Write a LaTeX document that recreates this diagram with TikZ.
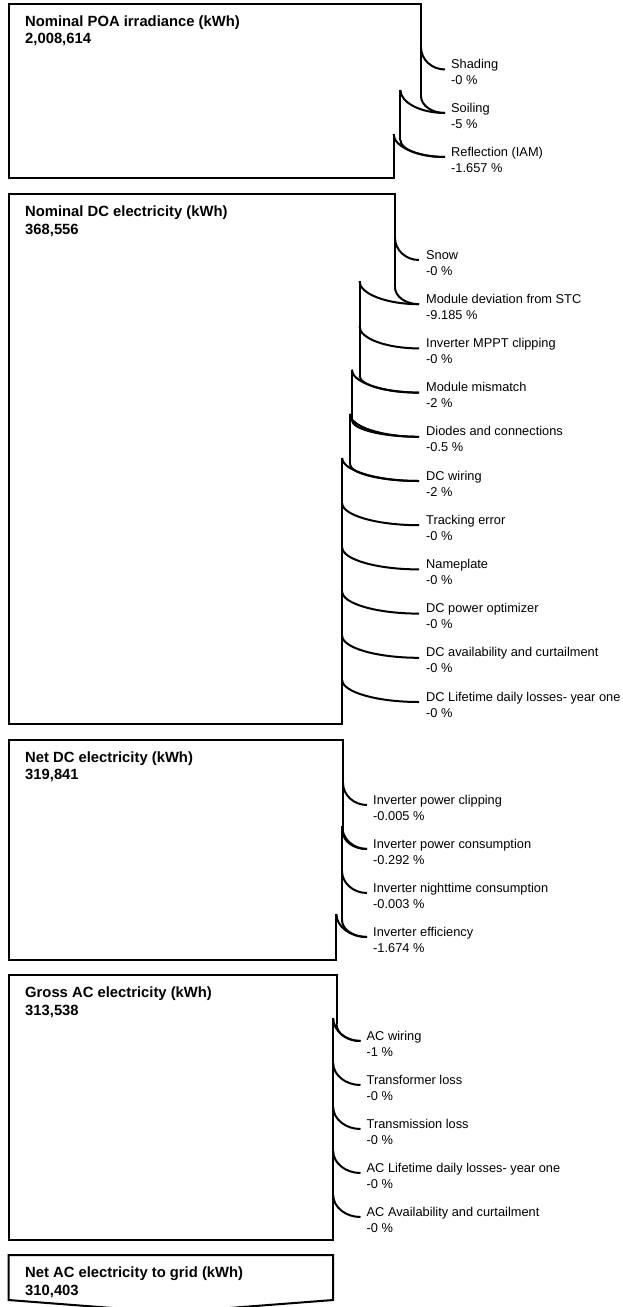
\documentclass[tikz,border=0pt]{standalone}
\usepackage{fontspec}
\setmainfont{Liberation Sans}
\tikzset{
  boxline/.style={line width=2pt, line join=miter},
  branch/.style={line width=2pt},
  title/.style={anchor=base west, inner sep=0pt, align=left, font=\bfseries\fontsize{14.8}{17.3}\selectfont},
  loss/.style={anchor=base west, inner sep=0pt, align=left, font=\fontsize{12.8}{16}\selectfont},
}
% #1 name, #2 y of curve end, #3 x of edge, #4 line1, #5 line2
\newcommand\zeroloss[5]{%
  \node[loss] (#1) at (\xt,{#2+15}) {#4\\#5};
  \coordinate (#1e) at (\xe,#2);
  \draw[branch] (#3,{#2-22}) .. controls (#3,{#2-10}) and ({#3+0.45*(\xe-#3)},#2) .. (#1e);
}
% #1 name, #2 y of curve end, #3 old edge x, #4 new edge x, #5 line1, #6 line2
\newcommand\realloss[6]{%
  \node[loss] (#1) at (\xt,{#2+15}) {#5\\#6};
  \coordinate (#1e) at (\xe,#2);
  \draw[branch] (#3,{#2-17}) .. controls (#3,{#2-7.5}) and ({#3+0.45*(\xe-#3)},#2) .. (#1e);
  \draw[branch] (#4,{#2-23}) .. controls (#4,{#2-10.5}) and ({#4+0.45*(\xe-#4)},#2) .. (#1e);
}
\begin{document}
\begin{tikzpicture}[x=1pt,y=-1pt]
\useasboundingbox (0,0) rectangle (622,1307);
\clip (0,0) rectangle (622,1307);

% ---------------- Box 1 ----------------
\draw[boxline] (421,96) -- (421,3.5) -- (8.5,3.5) -- (8.5,177.5) -- (393.6,177.5) -- (393.6,134);
\draw[boxline] (400.4,90) -- (400.4,140);
\node[title] (poa) at (25,43.5) {Nominal POA irradiance (kWh)\\2,008,614};
\def\xe{445}\def\xt{451}
\zeroloss{shading}{69.5}{421}{Shading}{-0 \%}
\realloss{soiling}{113}{421}{400.4}{Soiling}{-5 \%}
\realloss{iam}{157}{400.4}{393.6}{Reflection (IAM)}{-1.657 \%}

% ---------------- Box 2 ----------------
\draw[boxline] (395,287.2) -- (395,194) -- (8.5,194) -- (8.5,723.5) -- (342.2,723.5) -- (342.2,458);
\draw[boxline] (359.5,281.2) -- (359.5,375.6);
\draw[boxline] (351.8,369.6) -- (351.8,419.8);
\draw[boxline] (349.9,413.8) -- (349.9,464);
\node[title] (dc) at (25,234) {Nominal DC electricity (kWh)\\368,556};
\def\xe{419}\def\xt{426}
\zeroloss{snow}{260}{395}{Snow}{-0 \%}
\realloss{stc}{304.2}{395}{359.5}{Module deviation from STC}{-9.185 \%}
\zeroloss{mppt}{348.4}{359.5}{Inverter MPPT clipping}{-0 \%}
\realloss{mism}{392.6}{359.5}{351.8}{Module mismatch}{-2 \%}
\realloss{diod}{436.8}{351.8}{349.9}{Diodes and connections}{-0.5 \%}
\realloss{dcw}{481}{349.9}{342.2}{DC wiring}{-2 \%}
\zeroloss{track}{525.2}{342.2}{Tracking error}{-0 \%}
\zeroloss{name}{569.4}{342.2}{Nameplate}{-0 \%}
\zeroloss{opt}{613.6}{342.2}{DC power optimizer}{-0 \%}
\zeroloss{dcav}{657.8}{342.2}{DC availability and curtailment}{-0 \%}
\zeroloss{dclt}{702}{342.2}{DC Lifetime daily losses- year one}{-0 \%}

% ---------------- Box 3 ----------------
\draw[boxline] (343,832) -- (343,739.5) -- (8.5,739.5) -- (8.5,960) -- (336.4,960) -- (336.4,914);
\draw[boxline] (342,826) -- (342,920);
\node[title] (netdc) at (25,779.5) {Net DC electricity (kWh)\\319,841};
\def\xe{367}\def\xt{373}
\zeroloss{clip}{805}{343}{Inverter power clipping}{-0.005 \%}
\realloss{cons}{849}{343}{342}{Inverter power consumption}{-0.292 \%}
\zeroloss{night}{893}{342}{Inverter nighttime consumption}{-0.003 \%}
\realloss{eff}{937}{342}{336.4}{Inverter efficiency}{-1.674 \%}

% ---------------- Box 4 ----------------
\draw[boxline] (336.5,1024) -- (336.5,975) -- (8.5,975) -- (8.5,1240) -- (333.2,1240) -- (333.2,1018);
\node[title] (grossac) at (25,1015) {Gross AC electricity (kWh)\\313,538};
\def\xe{360.5}\def\xt{366.5}
\realloss{acw}{1041}{336.5}{333.2}{AC wiring}{-1 \%}
\zeroloss{trf}{1085}{333.2}{Transformer loss}{-0 \%}
\zeroloss{trm}{1129}{333.2}{Transmission loss}{-0 \%}
\zeroloss{aclt}{1173}{333.2}{AC Lifetime daily losses- year one}{-0 \%}
\zeroloss{acav}{1217}{333.2}{AC Availability and curtailment}{-0 \%}

% ---------------- Box 5 ----------------
\draw[boxline] (8.5,1255) -- (333.2,1255) -- (333.2,1300) -- (170.9,1312.5) -- (8.5,1300) -- cycle;
\node[title] (netac) at (25,1295) {Net AC electricity to grid (kWh)\\310,403};
\end{tikzpicture}
\end{document}
